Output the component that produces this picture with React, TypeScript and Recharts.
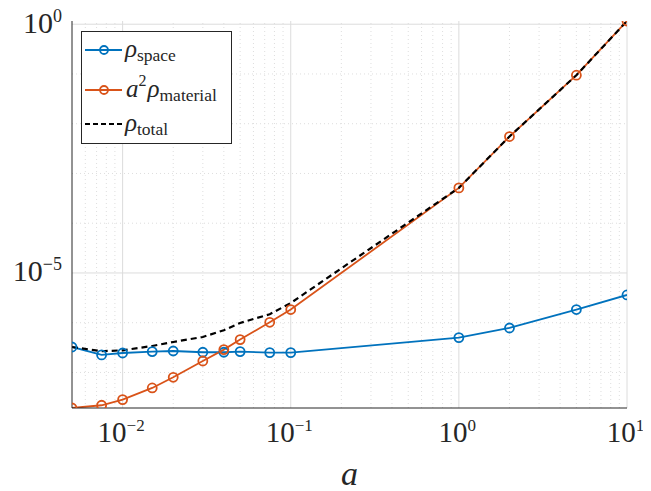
import React from 'react'
import { LineChart, Line, XAxis, YAxis, ReferenceLine, Legend } from 'recharts'

// values (log-log)
const aValues = [0.005, 0.0075, 0.01, 0.015, 0.02, 0.03, 0.04, 0.05, 0.075, 0.1, 1, 2, 5, 10]
const rhoSpace = [3.25e-7, 2.25e-7, 2.46e-7, 2.63e-7, 2.7e-7, 2.55e-7, 2.55e-7, 2.63e-7, 2.51e-7, 2.51e-7, 5.02e-7, 7.83e-7, 1.84e-6, 3.61e-6]
const rhoMaterial = [1.93e-8, 2.19e-8, 2.85e-8, 4.88e-8, 8.0e-8, 1.7e-7, 2.88e-7, 4.58e-7, 1.02e-6, 1.84e-6, 5.12e-4, 5.52e-3, 0.0944, 1.16]
const rhoTotal = [3.25e-7, 2.67e-7, 2.79e-7, 3.4e-7, 4.1e-7, 5.17e-7, 7.05e-7, 9.89e-7, 1.48e-6, 2.49e-6, 5.13e-4, 5.53e-3, 0.0944, 1.16]

const xMajor = [0.01, 0.1, 1, 10]
const xMinor = [0.006, 0.007, 0.008, 0.009, 0.02, 0.03, 0.04, 0.05, 0.06, 0.07, 0.08, 0.09, 0.2, 0.3, 0.4, 0.5, 0.6, 0.7, 0.8, 0.9, 2, 3, 4, 5, 6, 7, 8, 9]
const yMajor = [1e-5, 1]
const yMinor = [1e-7, 1e-6, 1e-4, 1e-3, 1e-2, 1e-1]
const yDecades = [1e-7, 1e-6, 1e-5, 1e-4, 1e-3, 1e-2, 1e-1, 1]

const xDomain = [0.005, 10]
const yDomain = [1.93e-8, 1.16]

const BLUE = '#0072BD'
const ORANGE = '#D95319'
const AXIS = '#262626'
const FONT = '"Liberation Serif", serif'

const data = aValues.map((a, i) => ({
  a,
  space: rhoSpace[i],
  material: rhoMaterial[i],
  total: rhoTotal[i],
}))

const expText = (v: number) => {
  const e = Math.round(Math.log10(v))
  return e < 0 ? '\u2212' + -e : String(e)
}

const XTick = (props: any) => {
  const { x, y, payload } = props
  return (
    <text x={x - 1.5} y={y + 34} textAnchor="middle" fill={AXIS} style={{ fontFamily: FONT, fontSize: 29 }}>
      10<tspan dy={-11} style={{ fontSize: 17 }}>{expText(payload.value)}</tspan>
    </text>
  )
}

const YTick = (props: any) => {
  const { x, y, payload } = props
  return (
    <text x={x - 10} y={y + 8.5} textAnchor="end" fill={AXIS} style={{ fontFamily: FONT, fontSize: 30 }}>
      10<tspan dy={-11} style={{ fontSize: 18 }}>{expText(payload.value)}</tspan>
    </text>
  )
}

const txt = { fontFamily: FONT, fontSize: 25 }
const sub = { fontSize: 17.5 }

const LegendBox = () => (
  <svg width={152} height={114} style={{ display: 'block' }}>
    <rect x={0.5} y={0.5} width={150} height={112} fill="#fff" stroke={AXIS} strokeWidth={1} />
    <line x1={4} x2={41} y1={19} y2={19} stroke={BLUE} strokeWidth={1.8} />
    <circle cx={23} cy={19} r={4} fill="none" stroke={BLUE} strokeWidth={1.8} />
    <text x={44} y={26} fill={AXIS} style={txt}>
      <tspan fontStyle="italic">ρ</tspan>
      <tspan style={sub} dy={4}>space</tspan>
    </text>
    <line x1={4} x2={41} y1={59} y2={59} stroke={ORANGE} strokeWidth={1.8} />
    <circle cx={23} cy={59} r={4} fill="none" stroke={ORANGE} strokeWidth={1.8} />
    <text x={45} y={66} fill={AXIS} style={txt}>
      <tspan fontStyle="italic">a</tspan>
      <tspan style={{ fontSize: 16 }} dy={-11}>2</tspan>
      <tspan fontStyle="italic" dy={11} dx={1}>ρ</tspan>
      <tspan style={sub} dy={4}>material</tspan>
    </text>
    <line x1={4} x2={41} y1={93} y2={93} stroke="#000" strokeWidth={2.2} strokeDasharray="5 3" />
    <text x={44} y={100} fill={AXIS} style={txt}>
      <tspan fontStyle="italic">ρ</tspan>
      <tspan style={sub} dy={4}>total</tspan>
    </text>
  </svg>
)

const tickAxis = { type: 'number' as const, scale: 'log' as const, allowDataOverflow: true, tick: false, mirror: true }

export default function App() {
  return (
    <div>
      <style>{'.recharts-surface { overflow: visible; }'}</style>
      <LineChart width={643} height={483} data={data} margin={{ top: 13, right: 24, left: 0, bottom: 0 }}>
        <XAxis
          xAxisId="x"
          dataKey="a"
          type="number"
          scale="log"
          domain={xDomain}
          allowDataOverflow
          ticks={xMajor}
          tick={<XTick />}
          tickLine={false}
          tickSize={0}
          tickMargin={0}
          axisLine={{ stroke: AXIS }}
          height={83}
          label={{ value: 'a', position: 'insideBottom', offset: 6, style: { fontStyle: 'italic', fontSize: 34, fill: AXIS, fontFamily: FONT } }}
        />
        <XAxis xAxisId="xb1" {...tickAxis} domain={xDomain} ticks={xMajor} tickSize={6} height={0} axisLine={false} tickLine={{ stroke: AXIS }} />
        <XAxis xAxisId="xb2" {...tickAxis} domain={xDomain} ticks={xMinor} tickSize={3.5} height={0} axisLine={false} tickLine={{ stroke: AXIS }} />
        <XAxis xAxisId="xt1" orientation="top" {...tickAxis} domain={xDomain} ticks={xMajor} tickSize={6} height={0} axisLine={{ stroke: AXIS }} tickLine={{ stroke: AXIS }} />
        <XAxis xAxisId="xt2" orientation="top" {...tickAxis} domain={xDomain} ticks={xMinor} tickSize={3.5} height={0} axisLine={false} tickLine={{ stroke: AXIS }} />
        <YAxis
          yAxisId="y"
          type="number"
          scale="log"
          domain={yDomain}
          allowDataOverflow
          ticks={yMajor}
          tick={<YTick />}
          tickLine={false}
          tickSize={0}
          tickMargin={0}
          axisLine={{ stroke: AXIS }}
          width={64}
        />
        <YAxis yAxisId="yl" {...tickAxis} domain={yDomain} ticks={yDecades} tickSize={5} width={0} axisLine={false} tickLine={{ stroke: AXIS }} />
        <YAxis yAxisId="yr" orientation="right" {...tickAxis} domain={yDomain} ticks={yDecades} tickSize={5} width={0} axisLine={{ stroke: AXIS }} tickLine={{ stroke: AXIS }} />

        {xMinor.map((v) => (
          <ReferenceLine key={'xm' + v} x={v} xAxisId="x" yAxisId="y" stroke="#dedede" strokeDasharray="1 3" />
        ))}
        {yMinor.map((v) => (
          <ReferenceLine key={'ym' + v} y={v} xAxisId="x" yAxisId="y" stroke="#dedede" strokeDasharray="1 3" />
        ))}
        {xMajor.map((v) => (
          <ReferenceLine key={'xM' + v} x={v} xAxisId="x" yAxisId="y" stroke="#dcdcdc" />
        ))}
        {yMajor.map((v) => (
          <ReferenceLine key={'yM' + v} y={v} xAxisId="x" yAxisId="y" stroke="#dcdcdc" />
        ))}

        <Legend
          layout="vertical"
          align="center"
          verticalAlign="middle"
          wrapperStyle={{ top: 23, left: 73, width: 152, height: 114 }}
          content={() => <LegendBox />}
        />

        <Line
          xAxisId="x"
          yAxisId="y"
          type="linear"
          dataKey="space"
          name="space"
          stroke={BLUE}
          strokeWidth={1.8}
          dot={{ r: 4.5, fill: 'none', stroke: BLUE, strokeWidth: 1.8 }}
          activeDot={false}
          isAnimationActive={false}
        />
        <Line
          xAxisId="x"
          yAxisId="y"
          type="linear"
          dataKey="material"
          name="material"
          stroke={ORANGE}
          strokeWidth={1.8}
          dot={{ r: 4.5, fill: 'none', stroke: ORANGE, strokeWidth: 1.8 }}
          activeDot={false}
          isAnimationActive={false}
        />
        <Line
          xAxisId="x"
          yAxisId="y"
          type="linear"
          dataKey="total"
          name="total"
          stroke="#000"
          strokeWidth={2.2}
          strokeDasharray="6 4"
          dot={false}
          activeDot={false}
          isAnimationActive={false}
        />
      </LineChart>
    </div>
  )
}
